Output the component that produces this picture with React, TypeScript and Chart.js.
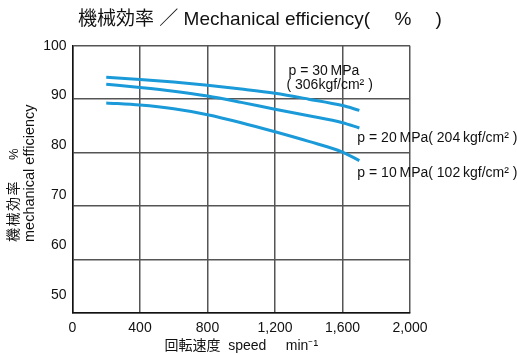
import React, { useEffect, useRef } from "react";
import { Chart, registerables } from "chart.js";

Chart.register(...registerables);

const speeds = [200, 400, 600, 800, 1000, 1200, 1400, 1600, 1700];
const eff30 = [94.1, 93.7, 93.2, 92.6, 91.9, 91.1, 90.0, 88.8, 87.9];
const eff20 = [92.8, 92.2, 91.5, 90.6, 89.4, 88.1, 86.9, 85.6, 84.6];
const eff10 = [89.3, 88.9, 88.2, 87.1, 85.6, 83.9, 82.1, 80.1, 78.5];

const xTicks = [0, 400, 800, 1200, 1600, 2000];
const yTicks = [50, 60, 70, 80, 90, 100];

const noteTexts = ["p = 30\u2009MPa", "( 306kgf/cm\u00b2 )", "p = 20\u2009MPa( 204\u2009kgf/cm\u00b2 )", "p = 10\u2009MPa( 102\u2009kgf/cm\u00b2 )"];
const noteX = [1280, 1268, 1688, 1688];
const noteY = [95.3, 92.6, 82.7, 76.2];

const titleText = "機械効率 ／ Mechanical efficiency(\u2003 %\u2003 )";
const yTitle1a = "機械効率";
const yTitle1b = "%";
const yTitle2 = "mechanical efficiency";
const xTitle = "回転速度  speed     min\u207b\u00b9";

const FONT = '"Liberation Sans", Arial, "Noto Sans CJK JP", sans-serif';
const BLUE = "#1a9ad8";

const annotPlugin = {
  id: "annot",
  afterDraw(chart: any) {
    const ctx = chart.ctx;
    const xs = chart.scales.x;
    const ys = chart.scales.y;
    ctx.save();
    ctx.fillStyle = "#111";
    ctx.textBaseline = "middle";

    // main title
    ctx.font = `19px ${FONT}`;
    ctx.textAlign = "center";
    ctx.fillText(titleText, 260, 20);

    // curve labels
    ctx.font = `14px ${FONT}`;
    ctx.textAlign = "left";
    noteTexts.forEach((t, i) => {
      ctx.fillText(t, xs.getPixelForValue(noteX[i]), ys.getPixelForValue(noteY[i]));
    });

    // y axis title (two rotated lines, starting at the same point)
    const baseY = 242;
    ctx.save();
    ctx.translate(14, baseY);
    ctx.rotate(-Math.PI / 2);
    ctx.font = `14px ${FONT}`;
    (ctx as any).letterSpacing = "1.5px";
    ctx.fillText(yTitle1a, 0, 0);
    (ctx as any).letterSpacing = "0px";
    ctx.font = `13px ${FONT}`;
    ctx.fillText(yTitle1b, 82, 0);
    ctx.restore();

    ctx.save();
    ctx.translate(30, baseY);
    ctx.rotate(-Math.PI / 2);
    ctx.font = `14.5px ${FONT}`;
    ctx.textAlign = "left";
    ctx.fillText(yTitle2, 0, 0);
    ctx.restore();

    ctx.restore();
  },
};

export default function App() {
  const ref = useRef<HTMLCanvasElement>(null);
  useEffect(() => {
    if (!ref.current) return;
    const mk = (data: number[]) => ({
      data: speeds.map((s, i) => ({ x: s, y: data[i] })),
      borderColor: BLUE,
      borderWidth: 3,
      pointRadius: 0,
      fill: false,
      cubicInterpolationMode: "monotone" as const,
      yAxisID: "y",
    });
    const chart = new Chart(ref.current, {
      type: "line",
      data: { datasets: [mk(eff30), mk(eff20), mk(eff10)] },
      options: {
        animation: false,
        responsive: false,
        maintainAspectRatio: false,
        layout: { padding: { left: 8, right: 107, top: 45.7, bottom: 0 } },
        plugins: {
          legend: { display: false },
          tooltip: { enabled: false },
          title: { display: false },
        },
        scales: {
          x: {
            type: "linear",
            min: 0,
            max: 2000,
            afterBuildTicks: (s: any) => {
              s.ticks = xTicks.map((v) => ({ value: v }));
            },
            afterFit: (s: any) => {
              s.height = 42;
            },
            grid: { color: "#555", lineWidth: 1.5, drawTicks: false },
            border: { color: "#111", width: 1.5 },
            ticks: {
              color: "#111",
              font: { family: FONT, size: 14 },
              padding: 7,
              maxRotation: 0,
              callback: (v: any) => Number(v).toLocaleString("en-US"),
            },
            title: {
              display: true,
              text: xTitle,
              color: "#111",
              font: { family: FONT, size: 14 },
              padding: { top: 0, bottom: 0 },
            },
          },
          y: {
            type: "linear",
            position: "left",
            min: 50,
            max: 100,
            afterBuildTicks: (s: any) => {
              s.ticks = yTicks.map((v) => ({ value: v }));
            },
            afterFit: (s: any) => {
              s.width = 0;
            },
            grid: { color: "#555", lineWidth: 1.5, drawTicks: false },
            border: { color: "#111", width: 1.5 },
            ticks: { display: false },
          },
          yl: {
            type: "linear",
            position: "left",
            min: 46.4,
            max: 100,
            afterBuildTicks: (s: any) => {
              s.ticks = yTicks.map((v) => ({ value: v }));
            },
            afterFit: (s: any) => {
              s.width = 64.5;
            },
            grid: { display: false, drawTicks: false },
            border: { display: false },
            ticks: {
              color: "#111",
              font: { family: FONT, size: 14 },
              padding: 6,
            },
          },
        },
      },
      plugins: [annotPlugin],
    });
    return () => chart.destroy();
  }, []);
  return (
    <div style={{ position: "absolute", left: 0, top: 0, width: 517, height: 355, background: "#fff" }}>
      <canvas ref={ref} width={517} height={355} style={{ width: 517, height: 355 }} />
    </div>
  );
}
